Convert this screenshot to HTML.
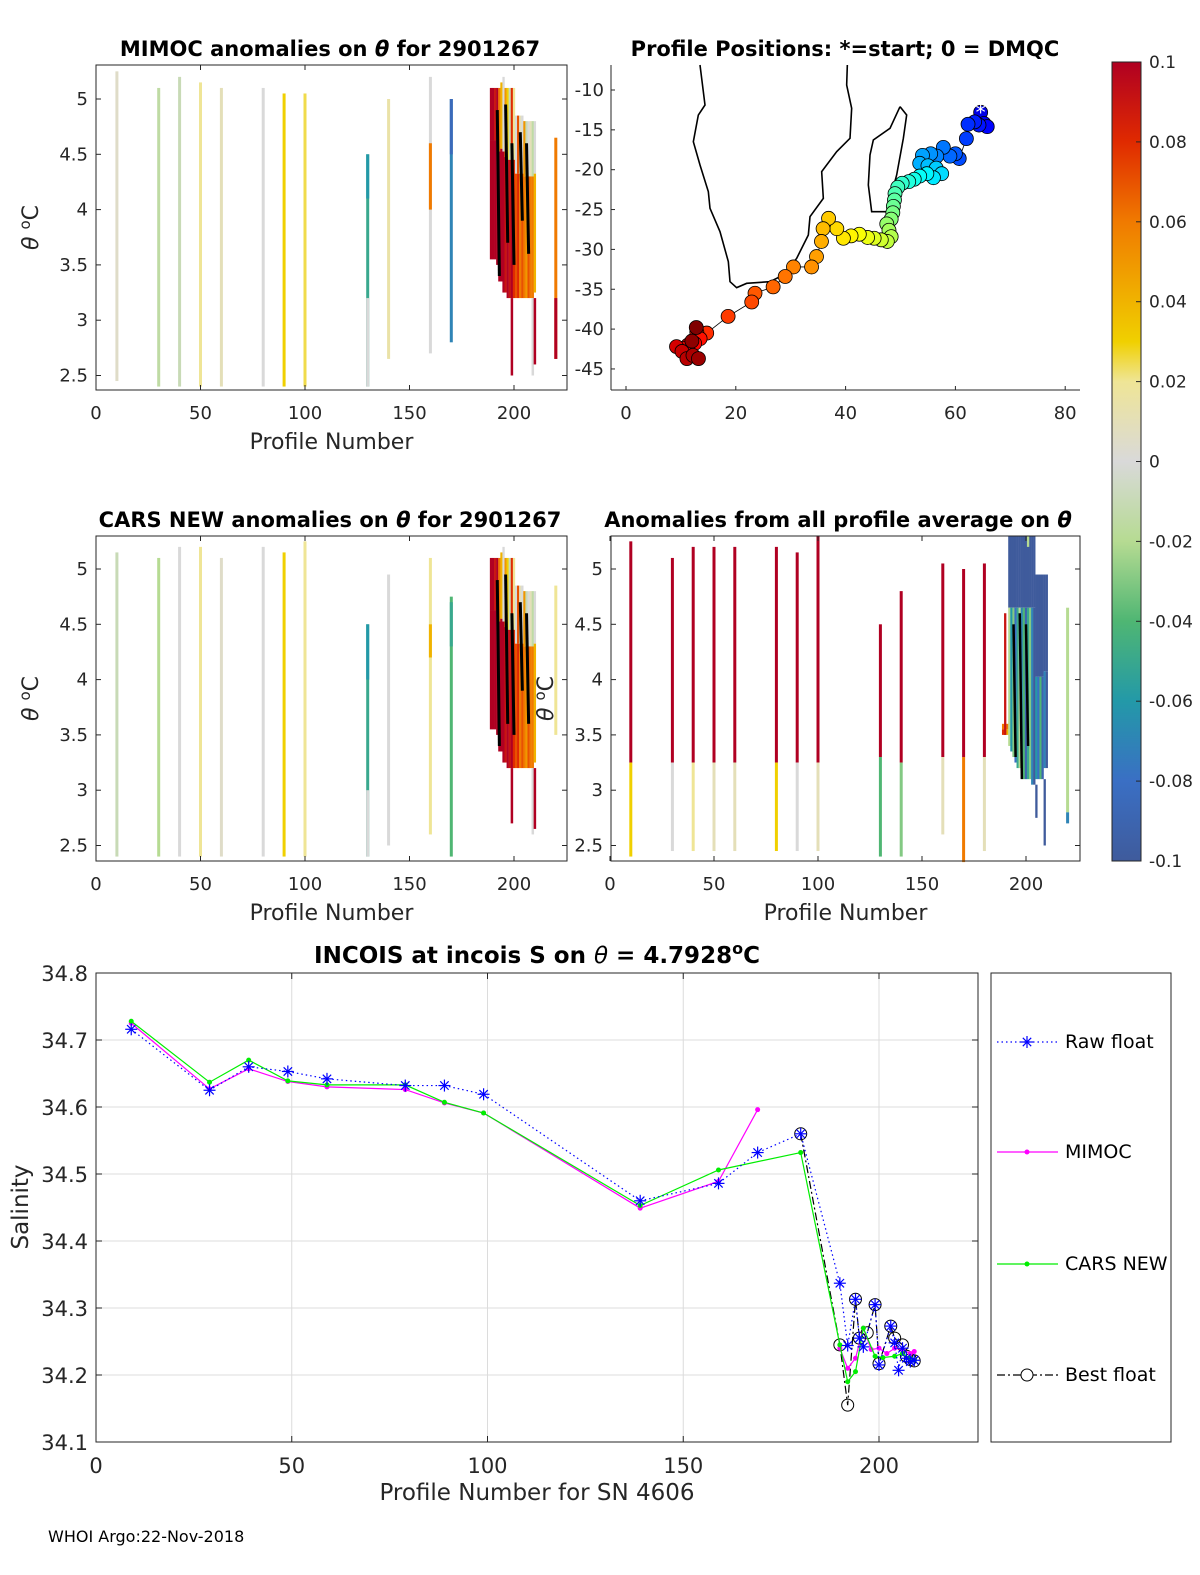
<!DOCTYPE html>
<html><head><meta charset="utf-8">
<style>
body{margin:0;background:#fff;}
svg{display:block;font-family:"DejaVu Sans","Liberation Sans",sans-serif;}
.tk{font-size:18px;fill:#262626;}
.ttl{font-size:21px;font-weight:bold;fill:#000;}
.lbl{font-size:22px;fill:#262626;}
.cb{font-size:17px;fill:#262626;}
</style></head>
<body>
<svg id="fig" width="1200" height="1575" viewBox="0 0 1200 1575" xmlns="http://www.w3.org/2000/svg">
<defs>
<linearGradient id="cmap" x1="0" y1="1" x2="0" y2="0">
<stop offset="0" stop-color="#3f5b9c"/><stop offset="0.1" stop-color="#3a6fc4"/>
<stop offset="0.2" stop-color="#2399a8"/><stop offset="0.3" stop-color="#4fb673"/>
<stop offset="0.4" stop-color="#b6db92"/><stop offset="0.5" stop-color="#d9d9d9"/>
<stop offset="0.6" stop-color="#efe596"/><stop offset="0.65" stop-color="#f0d000"/>
<stop offset="0.8" stop-color="#f07a00"/><stop offset="0.9" stop-color="#e02a00"/>
<stop offset="1" stop-color="#b00022"/>
</linearGradient>
</defs>
<g id="p1"></g>
<g id="p2"></g>
<g id="p3"></g>
<g id="p4"></g>
<g id="cbar"></g>
<g id="p5"></g>
<text x="48" y="1542" font-size="16" fill="#000">WHOI Argo:22-Nov-2018</text>
</svg>
<script>
// ---------- data ----------
const colProfiles = [10,30,40,50,60,80,90,100,130,140,160,170,220];
const p1Tops = [5.25,5.1,5.2,5.15,5.1,5.1,5.05,5.05,4.5,5.0,5.2,5.0,4.65];
const p1Bots = [2.45,2.4,2.4,2.4,2.4,2.4,2.4,2.4,2.4,2.65,2.7,2.8,2.65];
const p1Vals = [0.005,-0.015,-0.01,0.02,0.01,0.0,0.03,0.025,-0.05,0.015,0.0,-0.07,0.06];
const p3Tops = [5.15,5.1,5.2,5.2,5.1,5.2,5.15,5.25,4.5,4.95,5.1,4.75,4.85];
const p3Bots = [2.4,2.4,2.4,2.4,2.4,2.4,2.4,2.4,2.4,2.5,2.6,2.4,3.5];
const p3Vals = [-0.01,-0.02,0.0,0.02,0.005,0.0,0.03,0.02,-0.05,0.0,0.02,-0.04,0.02];
const p4Profiles = [10,30,40,50,60,80,90,100,130,140,160,170,180,220];
const p4Tops = [5.25,5.1,5.2,5.2,5.2,5.2,5.15,5.3,4.5,4.8,5.05,5.0,5.05,4.65];
const p4Mids = [3.25,3.25,3.25,3.25,3.25,3.25,3.25,3.25,3.3,3.25,3.3,3.3,3.3,2.8];
const p4Bots = [2.4,2.45,2.45,2.45,2.45,2.45,2.45,2.45,2.4,2.4,2.6,2.35,2.45,2.7];
const p4UpVals = [0.1,0.1,0.1,0.1,0.1,0.1,0.1,0.1,0.1,0.1,0.1,0.1,0.1,-0.02];
const p4LoVals = [0.03,0.0,0.02,0.01,0.01,0.03,0.0,0.01,-0.04,-0.03,0.01,0.06,0.01,-0.07];
const blobProfiles = [189,190,191,192,193,194,195,196,197,198,199,200,201,202,203,204,205,206,207,208,209,210];
const b1Tops = [5.1,5.1,5.1,5.1,5.1,5.15,5.2,5.1,5.1,5.1,5.1,5.1,4.85,4.85,4.85,4.85,4.8,4.8,4.8,4.8,4.8,4.8];
const b1Bots = [3.55,3.55,3.55,3.5,3.35,3.35,3.25,3.25,3.2,3.2,3.2,3.2,3.2,3.2,3.2,3.2,3.2,3.2,3.2,3.2,3.2,3.25];
const b1Up = [0.1,0.1,0.09,0.1,0.06,0.04,0.0,0.05,0.03,-0.01,0.08,0.02,0.0,0.07,0.01,0.0,0.05,-0.01,0.0,0.01,-0.015,0.0];
const b1Lo = [0.1,0.1,0.1,0.1,0.1,0.1,0.1,0.09,0.1,0.09,0.1,0.08,0.07,0.08,0.06,0.07,0.06,0.05,0.07,0.06,0.06,0.04];
const b4Tops = [3.6,3.6,3.6,5.3,5.3,5.3,5.3,5.3,5.3,5.3,5.3,5.3,5.3,5.3,5.3,5.3,4.95,4.95,4.95,4.95,4.95,4.95];
const b4Bots = [3.5,3.5,3.5,3.4,3.35,3.3,3.25,3.2,3.2,3.15,3.1,3.1,3.1,3.1,3.05,3.05,3.1,3.1,3.1,3.1,3.2,3.2];
const b4Up = [0.06,0.06,0.06,-0.1,-0.1,-0.1,-0.1,-0.1,-0.1,-0.1,-0.1,-0.1,-0.1,-0.1,-0.1,-0.1,-0.1,-0.1,-0.1,-0.1,-0.1,-0.1];
const b4Lo = [0.08,0.07,0.04,-0.02,-0.06,-0.03,-0.08,-0.05,-0.02,-0.07,-0.04,-0.09,-0.05,-0.03,-0.07,-0.1,-0.06,-0.08,-0.04,-0.09,-0.07,-0.1];
const mapLon = [64.6,65.2,65.8,64.3,63.5,62.3,62.0,60.7,60.0,59.0,57.8,56.6,55.5,54.0,53.5,55.0,56.5,57.5,56.0,54.8,53.5,52.5,51.5,50.3,49.5,49.0,48.9,48.7,48.6,48.3,47.5,47.9,48.3,47.6,46.5,45.2,44.0,42.5,41.0,39.6,38.4,36.9,35.9,35.6,34.7,33.8,30.5,29.0,26.8,23.5,22.9,18.6,14.7,12.9,13.5,12.5,11.3,10.5,9.2,10.2,11.1,12.2,13.2,12.0,12.8];
const mapLat = [-12.8,-14.2,-14.6,-14.4,-14.0,-14.3,-16.1,-18.6,-18.0,-18.3,-17.2,-18.3,-18.0,-18.2,-19.2,-19.5,-19.8,-20.5,-21.0,-20.5,-20.8,-21.2,-21.5,-21.7,-22.2,-23.0,-23.8,-24.6,-25.4,-26.2,-26.8,-27.6,-28.4,-29.0,-28.8,-28.6,-28.5,-28.1,-28.3,-28.6,-27.4,-26.1,-27.4,-29.0,-30.9,-32.2,-32.2,-33.4,-34.7,-35.5,-36.6,-38.4,-40.5,-40.4,-41.2,-41.8,-42.0,-42.4,-42.2,-42.8,-43.7,-43.3,-43.7,-41.5,-39.8];
const salTicks = [34.1,34.2,34.3,34.4,34.5,34.6,34.7,34.8];
const profTicks = [0,50,100,150,200];
const rawX = [9,29,39,49,59,79,89,99,139,159,169,180,190,192,194,195,196,199,200,203,204,205,206,207,208,209];
const rawY = [34.716,34.625,34.66,34.653,34.642,34.632,34.632,34.619,34.46,34.486,34.532,34.56,34.337,34.244,34.313,34.255,34.242,34.305,34.215,34.273,34.248,34.207,34.24,34.225,34.22,34.222];
const mimX = [9,29,39,49,59,79,89,99,139,159,169];
const mimY = [34.725,34.627,34.657,34.638,34.63,34.626,34.606,34.591,34.449,34.489,34.596];
const mim2X = [190,192,194,196,198,200,202,204,206,208,209];
const mim2Y = [34.24,34.21,34.225,34.27,34.238,34.24,34.232,34.24,34.238,34.232,34.235];
const carsX = [9,29,39,49,59,79,89,99,139,159,180,190,192,194,196,199,201,204,206,208,209];
const carsY = [34.728,34.637,34.67,34.639,34.633,34.633,34.607,34.591,34.453,34.506,34.532,34.245,34.19,34.205,34.27,34.228,34.226,34.228,34.232,34.225,34.222];
const bestX = [180,190,192,194,195,197,199,200,203,204,206,207,208,209];
const bestY = [34.56,34.245,34.155,34.313,34.255,34.263,34.305,34.217,34.273,34.255,34.245,34.228,34.223,34.221];

// ---------- helpers ----------
const NS="http://www.w3.org/2000/svg";
function mk(parent,tag,attrs,txt){const e=document.createElementNS(NS,tag);for(const k in attrs)e.setAttribute(k,attrs[k]);if(txt!==undefined)e.textContent=txt;parent.appendChild(e);return e;}
const stops=[[-0.1,[63,91,156]],[-0.08,[58,111,196]],[-0.06,[35,153,168]],[-0.04,[79,182,115]],[-0.02,[182,219,146]],[0,[217,217,217]],[0.02,[239,229,150]],[0.03,[240,208,0]],[0.06,[240,122,0]],[0.08,[224,42,0]],[0.1,[176,0,34]]];
function cmap(v){v=Math.max(-0.1,Math.min(0.1,v));for(let i=1;i<stops.length;i++){if(v<=stops[i][0]){const a=stops[i-1],b=stops[i],t=(v-a[0])/(b[0]-a[0]);const c=a[1].map((x,j)=>Math.round(x+(b[1][j]-x)*t));return `rgb(${c})`;}}return 'rgb(176,0,34)';}

function axesBox(g,x0,y0,x1,y1){mk(g,'rect',{x:x0,y:y0,width:x1-x0,height:y1-y0,fill:'none',stroke:'#262626','stroke-width':1});}

function thetaPanel(gid,box,xScale,yTicks,title,titleX,xlab,ylab){
  const g=document.getElementById(gid);
  const P={g,sx:v=>box.x0+v*xScale.k,sy:v=>box.yTop-(v-5)*110.6};
  P.draw=function(){
    axesBox(g,box.x0,box.y0,box.x1,box.y1);
    profTicks.forEach(t=>{const x=P.sx(t);if(x>box.x1)return;mk(g,'line',{x1:x,y1:box.y1,x2:x,y2:box.y1-5,stroke:'#262626'});mk(g,'line',{x1:x,y1:box.y0,x2:x,y2:box.y0+5,stroke:'#262626'});
      const t1=mk(g,'text',{x:x,y:box.y1+29,'text-anchor':'middle',class:'tk'},t);});
    yTicks.forEach(t=>{const y=P.sy(t);mk(g,'line',{x1:box.x0,y1:y,x2:box.x0+5,y2:y,stroke:'#262626'});mk(g,'line',{x1:box.x1,y1:y,x2:box.x1-5,y2:y,stroke:'#262626'});
      const t1=mk(g,'text',{x:box.x0-8,y:y+6,'text-anchor':'end',class:'tk'},t);});
    const tt=mk(g,'text',{x:titleX,y:box.y0-9,'text-anchor':'middle',class:'ttl'});tt.innerHTML=title;
    
    if(xlab){const xl=mk(g,'text',{x:(box.x0+box.x1)/2,y:box.y1+59,'text-anchor':'middle',class:'lbl'},xlab);}
    if(ylab){const yl=mk(g,'text',{x:0,y:0,'text-anchor':'middle',class:'lbl',transform:`translate(${box.x0-58},${(box.y0+box.y1)/2}) rotate(-90)`});yl.innerHTML='<tspan font-style="italic">θ</tspan> <tspan dy="-8" font-size="15">o</tspan><tspan dy="8">C</tspan>';
      }
  };
  return P;
}
function column(P,prof,top,bot,val,w){const r=mk(P.g,'rect',{x:P.sx(prof)-w/2,y:P.sy(top),width:w,height:P.sy(bot)-P.sy(top),fill:cmap(val)});
  return r;}

const yT=[2.5,3,3.5,4,4.5,5];
// Panel 1
const P1=thetaPanel('p1',{x0:96,y0:65,x1:567,y1:390,yTop:99},{k:2.09},yT,'MIMOC anomalies on <tspan font-style="italic">θ</tspan>  for 2901267',330,'Profile Number','θ');
colProfiles.forEach((p,i)=>{column(P1,p,p1Tops[i],p1Bots[i],p1Vals[i],3);});
column(P1,130,4.5,4.1,-0.06,3);column(P1,130,3.2,2.4,0.0,3);column(P1,160,4.6,4.0,0.06,3);column(P1,170,5.0,4.5,-0.085,3);
blobProfiles.forEach((p,i)=>{const mid=(b1Tops[i]+b1Bots[i])/2+0.3;column(P1,p,b1Tops[i],mid,b1Up[i],2.3);column(P1,p,mid,b1Bots[i],b1Lo[i],2.3);});
column(P1,199,3.2,2.5,0.1,2.5);column(P1,209,3.2,2.5,0.0,2.5);column(P1,210,3.2,2.6,0.1,2.5);column(P1,220,3.2,2.65,0.1,3);
[[192,4.9,3.4],[196,4.95,3.7],[199,4.6,3.5],[203,4.7,3.9],[206,4.6,3.6]].forEach(c=>{const l=mk(P1.g,'line',{x1:P1.sx(c[0]),y1:P1.sy(c[1]),x2:P1.sx(c[0]+1),y2:P1.sy(c[2]),stroke:'#000','stroke-width':3});});
P1.draw();

// Panel 3
const P3=thetaPanel('p3',{x0:96,y0:536,x1:567,y1:861,yTop:569},{k:2.09},yT,'CARS NEW anomalies on <tspan font-style="italic">θ</tspan> for 2901267',330,'Profile Number','θ');
colProfiles.forEach((p,i)=>{column(P3,p,p3Tops[i],p3Bots[i],p3Vals[i],3);});
column(P3,130,4.5,4.0,-0.06,3);column(P3,130,3.0,2.4,0.0,3);column(P3,160,4.5,4.2,0.04,3);column(P3,170,4.7,4.3,-0.05,3);
blobProfiles.forEach((p,i)=>{const mid=(b1Tops[i]+b1Bots[i])/2+0.3;column(P3,p,b1Tops[i],mid,b1Up[i],2.3);column(P3,p,mid,b1Bots[i],b1Lo[i],2.3);});
column(P3,199,3.2,2.7,0.1,2.5);column(P3,209,3.2,2.6,0.0,2.5);column(P3,210,3.2,2.65,0.1,2.5);
[[192,4.9,3.4],[196,4.95,3.6],[199,4.6,3.5],[203,4.7,3.9],[206,4.6,3.6]].forEach(c=>{const l=mk(P3.g,'line',{x1:P3.sx(c[0]),y1:P3.sy(c[1]),x2:P3.sx(c[0]+1),y2:P3.sy(c[2]),stroke:'#000','stroke-width':3});});
P3.draw();

// Panel 4
const P4=thetaPanel('p4',{x0:611,y0:536,x1:1080,y1:861,yTop:569},{k:2.08},yT,'Anomalies from all profile average on <tspan font-style="italic">θ</tspan>',838,'Profile Number','θ');
P4.sx=v=>610+v*2.08;
p4Profiles.forEach((p,i)=>{column(P4,p,p4Tops[i],p4Mids[i],p4UpVals[i],3);column(P4,p,p4Mids[i],p4Bots[i],p4LoVals[i],3);});
blobProfiles.forEach((p,i)=>{const mid=b4Tops[i]>5?4.65:(b4Tops[i]+b4Bots[i])/2;column(P4,p,b4Tops[i],mid,b4Up[i],2.3);column(P4,p,mid,b4Bots[i],b4Lo[i],2.3);});
column(P4,190,4.6,3.5,0.09,2.3);column(P4,201,5.3,5.2,-0.02,2.3);column(P4,205,3.05,2.75,-0.1,2.3);column(P4,209,3.1,2.5,-0.1,2.3);
[[194,4.5,3.3],[197,4.6,3.1],[200,4.5,3.4]].forEach(c=>{const l=mk(P4.g,'line',{x1:P4.sx(c[0]),y1:P4.sy(c[1]),x2:P4.sx(c[0]+1),y2:P4.sy(c[2]),stroke:'#000','stroke-width':2.5});});
P4.draw();

// Panel 2 map
(function(){
 const g=document.getElementById('p2');
 const sx=v=>626+v*5.49, sy=v=>90-(v+10)*7.97;
 const coast=[[270,0],[275,40],[285,120],[265,150],[250,230],[270,300],[295,380],[300,430],[330,500],[355,590],[360,650],[380,668],[410,655],[480,650],[520,630],[560,580],[595,510],[600,455],[640,400],[635,320],[680,260],[720,220],[725,130],[710,60],[712,0]];
 const mada=[[870,125],[840,190],[790,225],[780,270],[775,360],[785,440],[830,440],[860,330],[880,220],[890,150],[870,125]];
 const toP=a=>a.map(p=>`${610+p[0]/3},${65+p[1]/3}`).join(' ');
 const c1=mk(g,'polyline',{points:toP(coast),fill:'none',stroke:'#000','stroke-width':1.6});
 const c2=mk(g,'polyline',{points:toP(mada),fill:'none',stroke:'#000','stroke-width':1.6});
 const tr=mk(g,'polyline',{points:mapLon.map((v,i)=>`${sx(v)},${sy(mapLat[i])}`).join(' '),fill:'none',stroke:'#000','stroke-width':0.8});
 
 function jet(t){const r=Math.max(0,Math.min(1,1.5-Math.abs(4*t-3))),gg=Math.max(0,Math.min(1,1.5-Math.abs(4*t-2))),b=Math.max(0,Math.min(1,1.5-Math.abs(4*t-1)));return `rgb(${Math.round(r*255)},${Math.round(gg*255)},${Math.round(b*255)})`;}
 const n=mapLon.length;
 mapLon.forEach((v,i)=>{const c=mk(g,'circle',{cx:sx(v),cy:sy(mapLat[i]),r:7,fill:jet(0.1+0.9*i/(n-1)),stroke:'#000','stroke-width':0.8});});
 const st=mk(g,'text',{x:sx(mapLon[0]),y:sy(mapLat[0])+7,'text-anchor':'middle','font-size':20,fill:'#fff'},'*');
 mk(g,'line',{x1:611,y1:390,x2:1080,y2:390,stroke:'#262626'});
 mk(g,'line',{x1:611,y1:65,x2:611,y2:390,stroke:'#262626'});
 [0,20,40,60,80].forEach(t=>{const x=sx(t);mk(g,'line',{x1:x,y1:390,x2:x,y2:386,stroke:'#262626'});const l=mk(g,'text',{x:x,y:419,'text-anchor':'middle',class:'tk'},t);});
 [-10,-15,-20,-25,-30,-35,-40,-45].forEach(t=>{const y=sy(t);mk(g,'line',{x1:611,y1:y,x2:615,y2:y,stroke:'#262626'});const l=mk(g,'text',{x:604,y:y+6,'text-anchor':'end',class:'tk'},t);});
 const tt=mk(g,'text',{x:845,y:56,'text-anchor':'middle',class:'ttl'},'Profile Positions: *=start; 0 = DMQC');
})();

// Colorbar
(function(){
 const g=document.getElementById('cbar');
 mk(g,'rect',{x:1112,y:62,width:29,height:799,fill:'url(#cmap)',stroke:'#262626'});
 const cbT=[0.1,0.08,0.06,0.04,0.02,0,-0.02,-0.04,-0.06,-0.08,-0.1];
 const lab=['0.1','0.08','0.06','0.04','0.02','0','-0.02','-0.04','-0.06','-0.08','-0.1'];
 cbT.forEach((t,i)=>{const y=62+(0.1-t)/0.2*799;mk(g,'line',{x1:1136,y1:y,x2:1141,y2:y,stroke:'#262626'});const l=mk(g,'text',{x:1149,y:y+6,class:'cb'},lab[i]);});
})();

// Salinity chart
(function(){
 const g=document.getElementById('p5');
 const x0=96,x1=978,y0=973,y1=1442;
 const sx=v=>x0+v*3.915, sy=v=>y0+(34.8-v)*670;
 mk(g,'rect',{x:x0,y:y0,width:x1-x0,height:y1-y0,fill:'#fff',stroke:'#262626'});
 profTicks.forEach(t=>{const x=sx(t);if(t>0)mk(g,'line',{x1:x,y1:y0,x2:x,y2:y1,stroke:'#dcdcdc'});mk(g,'line',{x1:x,y1:y1,x2:x,y2:y1-6,stroke:'#262626'});mk(g,'line',{x1:x,y1:y0,x2:x,y2:y0+6,stroke:'#262626'});
  const l=mk(g,'text',{x:x,y:y1+31,'text-anchor':'middle',class:'tk',style:'font-size:21px'},t);});
 salTicks.forEach(t=>{const y=sy(t);if(t>34.1&&t<34.8)mk(g,'line',{x1:x0,y1:y,x2:x1,y2:y,stroke:'#dcdcdc'});mk(g,'line',{x1:x0,y1:y,x2:x0+6,y2:y,stroke:'#262626'});mk(g,'line',{x1:x1,y1:y,x2:x1-6,y2:y,stroke:'#262626'});
  const l=mk(g,'text',{x:x0-8,y:y+8,'text-anchor':'end',class:'tk',style:'font-size:21px'},t.toFixed(1));});
 mk(g,'rect',{x:x0,y:y0,width:x1-x0,height:y1-y0,fill:'none',stroke:'#262626'});
 function line(xs,ys,color,dash,name){const p=mk(g,'polyline',{points:xs.map((v,i)=>`${sx(v)},${sy(ys[i])}`).join(' '),fill:'none',stroke:color,'stroke-width':1.2,'stroke-dasharray':dash});}
 function dots(xs,ys,color,name){xs.forEach((v,i)=>{const c=mk(g,'circle',{cx:sx(v),cy:sy(ys[i]),r:2.5,fill:color});});}
 function star(x,y,color,s){[[s,0],[0,s],[s*0.7,s*0.7],[s*0.7,-s*0.7]].forEach(d=>mk(g,'line',{x1:x-d[0],y1:y-d[1],x2:x+d[0],y2:y+d[1],stroke:color,'stroke-width':1.2}));}
 line(bestX,bestY,'#000','8,3,2,3','best-float-line');
 bestX.forEach((v,i)=>{const c=mk(g,'circle',{cx:sx(v),cy:sy(bestY[i]),r:6,fill:'none',stroke:'#000','stroke-width':1});});
 line(mimX,mimY,'#ff00ff','','mimoc-line');line(mim2X,mim2Y,'#ff00ff','','mimoc-line-2');
 dots(mimX,mimY,'#ff00ff','mimoc-point');dots(mim2X,mim2Y,'#ff00ff','mimoc-point');
 line(carsX,carsY,'#00ee00','','cars-line');dots(carsX,carsY,'#00ee00','cars-point');
 line(rawX,rawY,'#0000ff','1.5,3','raw-float-line');
 rawX.forEach((v,i)=>{star(sx(v),sy(rawY[i]),'#0000ff',6);});
 const tt=mk(g,'text',{x:537,y:963,'text-anchor':'middle',class:'ttl',style:'font-size:23px'});tt.innerHTML='INCOIS at incois S on <tspan font-style="italic" font-weight="normal">θ</tspan> = 4.7928<tspan dy="-9" font-size="16">o</tspan><tspan dy="9">C</tspan>';
 
 const xl=mk(g,'text',{x:537,y:1500,'text-anchor':'middle',class:'lbl',style:'font-size:23px'},'Profile Number for SN 4606');
 const yl=mk(g,'text',{x:0,y:0,'text-anchor':'middle',class:'lbl',style:'font-size:23px',transform:'translate(28,1207) rotate(-90)'},'Salinity');
 const lg=mk(g,'g',{});
 mk(lg,'rect',{x:991,y:973,width:180,height:469,fill:'#fff',stroke:'#262626'});
 const items=[['Raw float',1042,'#0000ff','1.5,3'],['MIMOC',1152,'#ff00ff',''],['CARS NEW',1264,'#00ee00',''],['Best float',1375,'#000','8,3,2,3']];
 items.forEach((it,i)=>{const e=mk(lg,'g',{});
  mk(e,'line',{x1:997,y1:it[1],x2:1058,y2:it[1],stroke:it[2],'stroke-width':1.2,'stroke-dasharray':it[3]});
  if(i===0)star(1027,it[1],'#0000ff',6);
  if(i===1||i===2)mk(e,'circle',{cx:1027,cy:it[1],r:2.5,fill:it[2]});
  if(i===3)mk(e,'circle',{cx:1027,cy:it[1],r:6,fill:'#fff',stroke:'#000'});
  mk(e,'text',{x:1065,y:it[1]+6,'font-size':19,fill:'#000'},it[0]);});
})();
</script>
</body></html>
